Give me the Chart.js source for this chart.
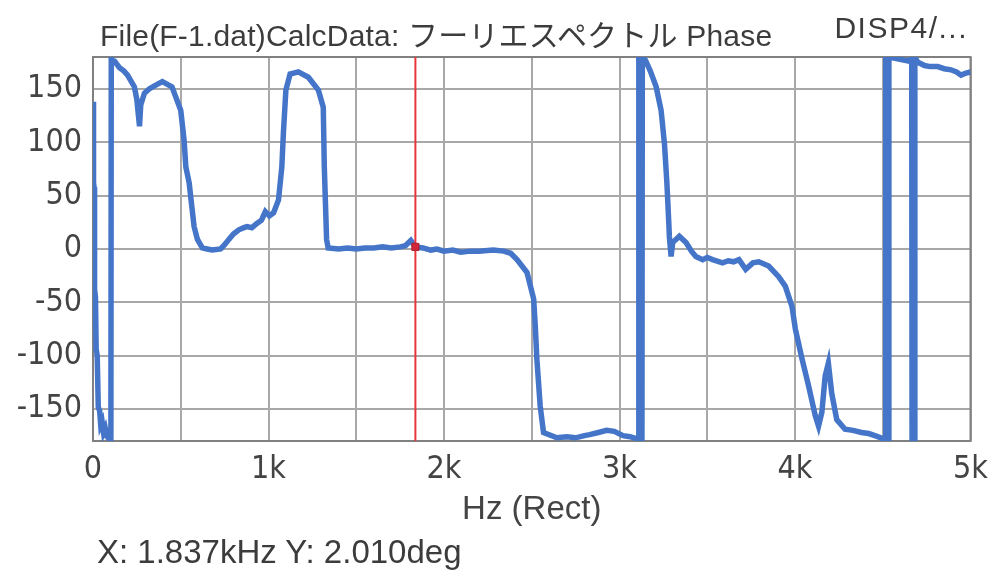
<!DOCTYPE html>
<html>
<head>
<meta charset="utf-8">
<script src="https://cdn.jsdelivr.net/npm/chart.js@4/dist/chart.umd.min.js"></script>
<style>
  body { margin: 0; background: #fff; }
  #wrap { position: relative; width: 997px; height: 577px; }
  #chart { position: absolute; left: 0; top: 0; }
  .txt { position: absolute; color: #3c3c3c; font-family: "Liberation Sans", "Noto Sans CJK JP", sans-serif; white-space: nowrap; }
  #title { left: 100px; top: 11px; font-size: 30px; letter-spacing: 0.2px; }
  #disp { right: 29px; top: 11px; font-size: 30px; letter-spacing: 1.5px; }
  #readout { left: 97px; top: 533px; font-size: 33px; }
</style>
</head>
<body>
<div id="wrap">
  <canvas id="chart"></canvas>
  <div id="title" class="txt">File(F-1.dat)CalcData: フーリエスペクトル Phase</div>
  <div id="disp" class="txt">DISP4/...</div>
  <div id="readout" class="txt"></div>
</div>
<script>
// phase spectrum, Hz / deg (10 per row)
const freqHz = [
  0, 3, 6, 9, 14, 18, 24, 30, 38, 44,
  52, 60, 70, 80, 92, 102, 104, 110, 123, 151,
  175, 197, 236, 250, 265, 272, 293, 320, 350, 395,
  450, 500, 519, 529, 548, 563, 576, 595, 623, 650,
  680, 727, 750, 774, 800, 831, 860, 878, 905, 934,
  960, 982, 1005, 1029, 1057, 1076, 1085, 1099, 1123, 1170,
  1227, 1284, 1312, 1318, 1331, 1340, 1400, 1450, 1500, 1550,
  1600, 1650, 1700, 1750, 1780, 1811, 1837, 1880, 1925, 1960,
  2000, 2050, 2095, 2150, 2200, 2280, 2341, 2380, 2416, 2473,
  2511, 2520, 2529, 2548, 2567, 2643, 2700, 2750, 2800, 2830,
  2880, 2926, 2970, 3020, 3060, 3100, 3108, 3110, 3120, 3122,
  3128, 3130, 3148, 3175, 3209, 3237, 3256, 3270, 3281, 3284,
  3294, 3303, 3341, 3379, 3410, 3435, 3474, 3500, 3530, 3587,
  3620, 3650, 3681, 3719, 3760, 3794, 3850, 3907, 3945, 3983,
  4002, 4040, 4077, 4115, 4134, 4153, 4172, 4190, 4209, 4238,
  4285, 4330, 4379, 4420, 4455, 4505, 4515, 4517, 4527, 4529,
  4533, 4535, 4650, 4665, 4667, 4681, 4683, 4700, 4738, 4770,
  4813, 4850, 4889, 4920, 4946, 4975, 5000
];
const phaseDeg = [
  138, 62, 58, -38, -45, -94, -100, -148, -152, -165,
  -162, -172, -168, -176, -178, -180, 180, 176, 176, 170,
  167, 163, 152, 140, 115, 135, 146, 150, 153, 157,
  152, 130, 102, 77, 62, 40, 21, 9, 1, 0,
  -1, 0, 4, 9, 14, 18, 20, 21, 20, 24,
  27, 35, 31, 34, 46, 77, 109, 149, 164, 166,
  161, 149, 133, 77, 9, 1, 0, 1, 0, 1,
  1, 2, 1, 2, 3, 8, 2, 1, -1, 0,
  -2, -1, -3, -2, -2, -1, -2, -4, -10, -22,
  -47, -72, -103, -147, -172, -177, -176, -177, -175, -174,
  -172, -170, -171, -175, -176, -178, -180, 180, 180, -180,
  -180, 180, 177, 167, 152, 130, 99, 62, 24, 12,
  -7, 6, 12, 6, -2, -7, -10, -8, -10, -13,
  -11, -12, -10, -19, -13, -12, -16, -26, -35, -54,
  -75, -103, -128, -156, -166, -153, -119, -107, -135, -160,
  -169, -170, -172, -173, -175, -178, -180, 180, 180, -180,
  -180, 180, 176, 180, -180, -180, 180, 175, 172, 171,
  171, 169, 168, 166, 163, 165, 166
];

// grid every 500 Hz, labels every 1 kHz
const xGridHz = [0, 500, 1000, 1500, 2000, 2500, 3000, 3500, 4000, 4500, 5000];
const xLabelHz = [0, 1000, 2000, 3000, 4000, 5000];
const xLabelText = ["0", "1k", "2k", "3k", "4k", "5k"];
const yTickValues = [-150, -100, -50, 0, 50, 100, 150];

// cursor readout
const cursorHz = 1837;
const cursorDeg = 2.010;

document.getElementById("readout").textContent =
  "X: " + (cursorHz / 1000).toFixed(3) + "kHz Y: " + cursorDeg.toFixed(3) + "deg";

const tickFont = { family: "'DejaVu Sans Condensed', 'Liberation Sans'", size: 32 };

const frame = {
  id: "frame",
  beforeDatasetsDraw(chart) {
    const a = chart.chartArea;
    const c = chart.ctx;
    c.save();
    c.strokeStyle = "#808080";
    c.lineWidth = 2;
    c.strokeRect(a.left, a.top, a.right - a.left, a.bottom - a.top);
    c.restore();
  }
};

new Chart(document.getElementById("chart"), {
  type: "line",
  data: {
    datasets: [
      {
        data: freqHz.map((f, i) => ({ x: f, y: phaseDeg[i] })),
        borderColor: "#4475c8",
        borderWidth: 5.5,
        pointRadius: 0,
        tension: 0,
        order: 3
      },
      {
        data: [{ x: cursorHz, y: -180 }, { x: cursorHz, y: 180 }],
        borderColor: "#e8353a",
        borderWidth: 2,
        pointRadius: 0,
        order: 2
      },
      {
        data: [{ x: cursorHz, y: cursorDeg }],
        showLine: false,
        pointStyle: "rect",
        pointRadius: 5,
        backgroundColor: "#d0283a",
        borderColor: "#b01c2c",
        borderWidth: 1,
        order: 1
      }
    ]
  },
  options: {
    responsive: true,
    maintainAspectRatio: false,
    animation: false,
    layout: { padding: { left: 0, top: 57, right: 22, bottom: 0 } },
    plugins: { legend: { display: false }, tooltip: { enabled: false } },
    scales: {
      x: {
        type: "linear",
        min: 0,
        max: 5000,
        afterBuildTicks: (s) => { s.ticks = xGridHz.map(v => ({ value: v })); },
        afterFit: (s) => { s.height = 136; },
        grid: { color: "#a8a8a8", lineWidth: 2, drawTicks: false },
        border: { display: false },
        ticks: {
          font: tickFont,
          color: "#444",
          padding: 9,
          maxRotation: 0,
          autoSkip: false,
          callback: (v) => {
            const i = xLabelHz.indexOf(v);
            return i < 0 ? "" : xLabelText[i];
          }
        },
        title: {
          display: true,
          text: "Hz (Rect)",
          color: "#444",
          font: { family: "'Liberation Sans'", size: 33 },
          padding: { top: 0, bottom: 47 }
        }
      },
      y: {
        min: -180,
        max: 180,
        afterBuildTicks: (s) => { s.ticks = yTickValues.map(v => ({ value: v })); },
        afterFit: (s) => { s.width = 93; },
        grid: { color: "#a8a8a8", lineWidth: 2, drawTicks: false },
        border: { display: false },
        ticks: { font: tickFont, color: "#444", padding: 11 }
      }
    }
  },
  plugins: [frame]
});
</script>
</body>
</html>
